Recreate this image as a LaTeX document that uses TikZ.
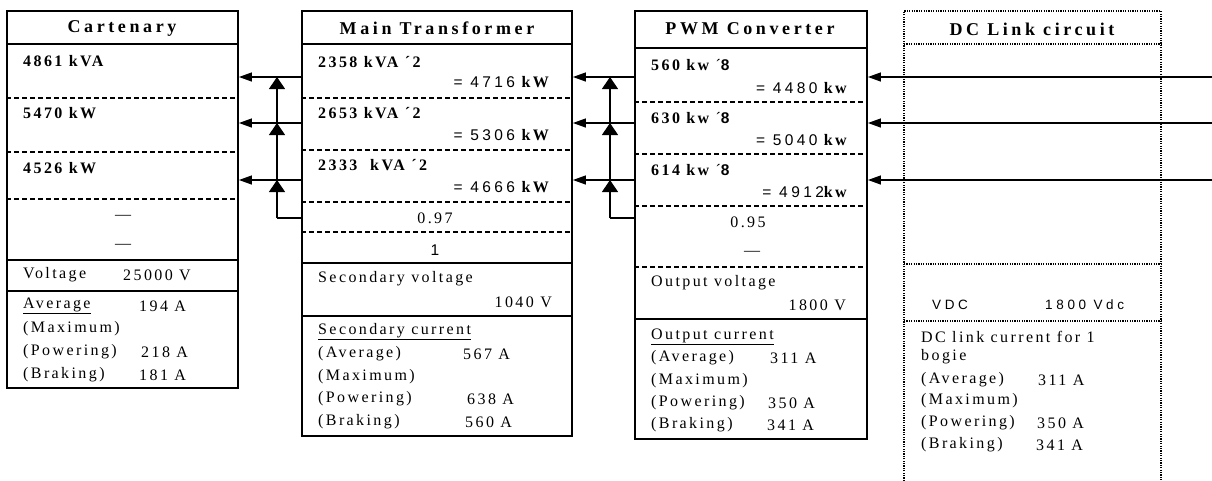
\documentclass[tikz,border=0pt]{standalone}
\usepackage{fontspec}
\setmainfont{Liberation Serif}
\newfontfamily\hdfont[LetterSpace=20]{Liberation Serif}
\newfontfamily\txfont[LetterSpace=15]{Liberation Serif}
\newfontfamily\arfont[LetterSpace=22]{Liberation Sans}
\newfontfamily\arwide[LetterSpace=27]{Liberation Sans}
\usetikzlibrary{positioning,calc,arrows.meta}

\tikzset{
  box/.style={draw, line width=1.8pt, inner sep=0pt},
  hsep/.style={line width=1.6pt},
  dsep/.style={line width=1.3pt, dash pattern=on 5pt off 3pt},
  dotline/.style={line width=1.8pt, dash pattern=on 1.2pt off 1.2pt},
  flow/.style={line width=1.2pt, -{Triangle[length=13pt,width=9pt]}},
  rise/.style={line width=1.3pt, -{Triangle[length=12pt,width=16pt]}},
  hd/.style={inner sep=0pt, font=\hdfont\bfseries\fontsize{18}{18}\selectfont},
  tx/.style={inner sep=0pt, anchor=west, font=\txfont\fontsize{16}{18}\selectfont},
  txr/.style={tx, anchor=east},
  txc/.style={tx, anchor=center},
  ar/.style={font=\arwide\fontsize{13.5}{17}\selectfont},
}
\newcommand{\arnum}[1]{{\arfont\fontsize{15.5}{18}\selectfont #1}}

\begin{document}
\begin{tikzpicture}[x=1pt, y=-1pt]
  \useasboundingbox (0,0) rectangle (1212,480);

  % boxes
  \node[box, minimum width=231, minimum height=377] (cat) at (122.5,199.5) {};
  \node[box, minimum width=270, minimum height=425] (mt) at (437,223.5) {};
  \node[box, minimum width=232, minimum height=428] (pwm) at (751,225) {};
  \coordinate (dcTL) at (904,11);
  \coordinate (dcTR) at (1161,11);
  \draw[dotline] (904,481) -- (dcTL) -- (dcTR) -- (1161,481);

  % separators
  \draw[hsep] (cat.west |- 0,44) -- (cat.east |- 0,44);
  \draw[dsep] (cat.west |- 0,98) -- (cat.east |- 0,98);
  \draw[dsep] (cat.west |- 0,152) -- (cat.east |- 0,152);
  \draw[dsep] (cat.west |- 0,199) -- (cat.east |- 0,199);
  \draw[hsep] (cat.west |- 0,260) -- (cat.east |- 0,260);
  \draw[hsep] (cat.west |- 0,291) -- (cat.east |- 0,291);

  \draw[hsep] (mt.west |- 0,44) -- (mt.east |- 0,44);
  \draw[dsep] (mt.west |- 0,98) -- (mt.east |- 0,98);
  \draw[dsep] (mt.west |- 0,150) -- (mt.east |- 0,150);
  \draw[dsep] (mt.west |- 0,202) -- (mt.east |- 0,202);
  \draw[dsep] (mt.west |- 0,232) -- (mt.east |- 0,232);
  \draw[hsep] (mt.west |- 0,263) -- (mt.east |- 0,263);
  \draw[hsep] (mt.west |- 0,316) -- (mt.east |- 0,316);

  \draw[hsep] (pwm.west |- 0,48) -- (pwm.east |- 0,48);
  \draw[dsep] (pwm.west |- 0,102) -- (pwm.east |- 0,102);
  \draw[dsep] (pwm.west |- 0,154) -- (pwm.east |- 0,154);
  \draw[dsep] (pwm.west |- 0,206) -- (pwm.east |- 0,206);
  \draw[dsep] (pwm.west |- 0,267) -- (pwm.east |- 0,267);
  \draw[hsep] (pwm.west |- 0,319) -- (pwm.east |- 0,319);

  \draw[dotline] (dcTL |- 0,44) -- (dcTR |- 0,44);
  \draw[dotline] (dcTL |- 0,264) -- (dcTR |- 0,264);
  \draw[dotline] (dcTL |- 0,321) -- (dcTR |- 0,321);

  % headers
  \node[hd] (catH) at (122,28) {Cartenary};
  \node[hd] (mtH) at (437,28) {Main Transformer};
  \node[hd] (pwmH) at (750,29) {PWM Converter};
  \node[hd] (dcH) at (1032,29) {DC Link circuit};

  % Cartenary
  \node[tx] (c1) at (23,61) {\bfseries 4861 kVA};
  \node[tx] (c2) at (23,113) {\bfseries 5470 kW};
  \node[tx] (c3) at (23,168) {\bfseries 4526 kW};
  \node[txc] (c4) at (123,217) {—};
  \node[txc] (c5) at (123,246) {—};
  \node[tx] (c6) at (23,275) {Voltage};
  \node[tx] (c6v) at (123,275) {25000 V};
  \node[tx] (c7) at (23,306) {\underline{Average}};
  \node[tx] (c7v) at (139,306) {194 A};
  \node[tx] (c8) at (23,329) {(Maximum)};
  \node[tx] (c9) at (23,352) {(Powering)};
  \node[tx] (c9v) at (141,352) {218 A};
  \node[tx] (c10) at (23,375) {(Braking)};
  \node[tx] (c10v) at (139,375) {181 A};

  % Main Transformer
  \node[tx] (m1) at (318,62) {\bfseries 2358 kVA ´2};
  \node[txr] (m1v) at (549,82) {\arnum{= 4716} \bfseries kW};
  \node[tx] (m2) at (318,113) {\bfseries 2653 kVA ´2};
  \node[txr] (m2v) at (549,135) {\arnum{= 5306} \bfseries kW};
  \node[tx] (m3) at (318,165) {\bfseries 2333\ \ kVA ´2};
  \node[txr] (m3v) at (549,187) {\arnum{= 4666} \bfseries kW};
  \node[txc] (m4) at (435,218) {0.97};
  \node[txc] (m5) at (435,250) {\arnum{1}};
  \node[tx] (m6) at (318,279) {Secondary voltage};
  \node[txr] (m6v) at (552,302) {1040 V};
  \node[tx] (m7) at (318,332) {\underline{Secondary current}};
  \node[tx] (m8) at (318,354) {(Average)};
  \node[tx] (m8v) at (463,354) {567 A};
  \node[tx] (m9) at (318,377) {(Maximum)};
  \node[tx] (m10) at (318,399) {(Powering)};
  \node[tx] (m10v) at (467,399) {638 A};
  \node[tx] (m11) at (318,422) {(Braking)};
  \node[tx] (m11v) at (465,422) {560 A};

  % PWM Converter
  \node[tx] (p1) at (651,65) {\bfseries 560 kw {\mdseries ´}\arnum{8}};
  \node[txr] (p1v) at (847,88) {\arnum{= 4480} \bfseries kw};
  \node[tx] (p2) at (651,118) {\bfseries 630 kw {\mdseries ´}\arnum{8}};
  \node[txr] (p2v) at (847,140) {\arnum{= 5040} \bfseries kw};
  \node[tx] (p3) at (651,170) {\bfseries 614 kw {\mdseries ´}\arnum{8}};
  \node[txr] (p3v) at (847,192) {\arnum{= 4912}\bfseries kw};
  \node[txc] (p4) at (748,222) {0.95};
  \node[txc] (p5) at (752,253) {—};
  \node[tx] (p6) at (651,283) {Output voltage};
  \node[txr] (p6v) at (846,305) {1800 V};
  \node[tx] (p7) at (651,337) {\underline{Output current}};
  \node[tx] (p8) at (651,358) {(Average)};
  \node[tx] (p8v) at (770,358) {311 A};
  \node[tx] (p9) at (651,381) {(Maximum)};
  \node[tx] (p10) at (651,403) {(Powering)};
  \node[tx] (p10v) at (768,403) {350 A};
  \node[tx] (p11) at (651,425) {(Braking)};
  \node[tx] (p11v) at (767,425) {341 A};

  % DC Link circuit
  \node[tx, ar] (d1) at (932,305) {VDC};
  \node[tx, ar] (d1v) at (1045,305) {1800 Vdc};
  \node[tx] (d2) at (921,337) {DC link current for 1};
  \node[tx] (d3) at (921,357) {bogie};
  \node[tx] (d4) at (921,380) {(Average)};
  \node[tx] (d4v) at (1038,380) {311 A};
  \node[tx] (d5) at (921,401) {(Maximum)};
  \node[tx] (d6) at (921,423) {(Powering)};
  \node[tx] (d6v) at (1037,423) {350 A};
  \node[tx] (d7) at (921,445) {(Braking)};
  \node[tx] (d7v) at (1036,445) {341 A};

  % power flow
  \foreach \y in {77,123,180} {
    \coordinate (in\y) at (1212,\y);
    \draw[flow] (in\y) -- (pwm.east |- 0,\y);
    \draw[flow] (pwm.west |- 0,\y) -- (mt.east |- 0,\y);
    \draw[flow] (mt.west |- 0,\y) -- (cat.east |- 0,\y);
  }

  % power factor feed
  \coordinate (pfA) at (277,218);
  \coordinate (pfB) at (610,218);
  \draw[line width=1.3pt] (mt.west |- pfA) -- (pfA);
  \draw[line width=1.3pt] (pwm.west |- pfB) -- (pfB);
  \draw[rise] (pfA) -- (277,180);
  \draw[rise] (277,180) -- (277,123);
  \draw[rise] (277,123) -- (277,77);
  \draw[rise] (pfB) -- (610,180);
  \draw[rise] (610,180) -- (610,123);
  \draw[rise] (610,123) -- (610,77);
\end{tikzpicture}
\end{document}
